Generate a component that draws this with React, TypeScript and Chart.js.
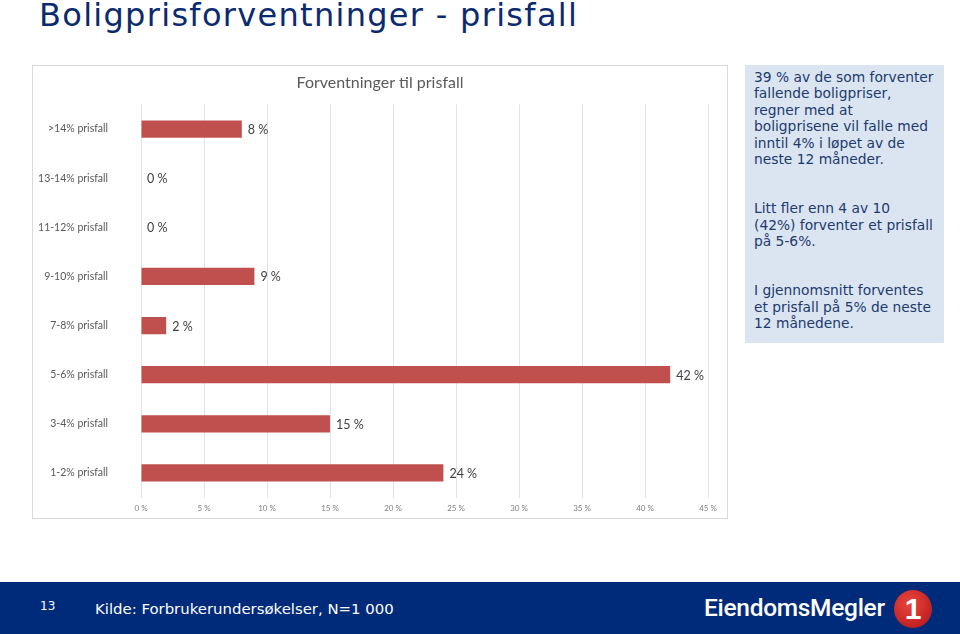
import React, { useEffect, useRef } from "react";
import { Chart, registerables } from "chart.js";

Chart.register(...registerables);

const categories = [
  ">14% prisfall",
  "13-14% prisfall",
  "11-12% prisfall",
  "9-10% prisfall",
  "7-8% prisfall",
  "5-6% prisfall",
  "3-4% prisfall",
  "1-2% prisfall",
];
const values = [8, 0, 0, 9, 2, 42, 15, 24];
const chartTitle = "Forventninger til prisfall";
const pageTitle = "Boligprisforventninger - prisfall";
const note1 = [
  "39 % av de som forventer",
  "fallende boligpriser,",
  "regner med at",
  "boligprisene vil falle med",
  "inntil 4% i løpet av de",
  "neste 12 måneder.",
];
const note2 = ["Litt fler enn 4 av 10", "(42%) forventer et prisfall", "på 5-6%."];
const note3 = ["I gjennomsnitt forventes", "et prisfall på 5% de neste", "12 månedene."];
const notes = [note1, note2, note3];
const source = "Kilde: Forbrukerundersøkelser, N=1 000";
const pageNo = "13";

const FONT = "Lato, 'Open Sans', sans-serif";

const dataLabelPlugin = {
  id: "dataLabels",
  afterDatasetsDraw(chart: any) {
    const ctx = chart.ctx;
    const meta = chart.getDatasetMeta(0);
    ctx.save();
    ctx.font = `12.5px ${FONT}`;
    ctx.fillStyle = "#404040";
    ctx.textAlign = "left";
    ctx.textBaseline = "middle";
    meta.data.forEach((bar: any, i: number) => {
      const v = chart.data.datasets[0].data[i];
      ctx.fillText(`${v} %`, bar.x + 6, bar.y + 1);
    });
    ctx.restore();
  },
};

function BarChart() {
  const ref = useRef<HTMLCanvasElement>(null);
  useEffect(() => {
    if (!ref.current) return;
    const chart = new Chart(ref.current, {
      type: "bar",
      data: {
        labels: categories,
        datasets: [
          {
            data: values,
            backgroundColor: "#c0504d",
            barPercentage: 0.35,
            categoryPercentage: 1,
          },
        ],
      },
      options: {
        indexAxis: "y",
        responsive: false,
        animation: false,
        layout: { padding: 0 },
        plugins: {
          legend: { display: false },
          tooltip: { enabled: false },
          title: {
            display: true,
            text: chartTitle,
            color: "#595959",
            font: { family: FONT, size: 16, weight: "normal" },
            padding: { top: 7.4, bottom: 11.9 },
          },
        },
        scales: {
          x: {
            min: 0,
            max: 45,
            ticks: {
              stepSize: 5,
              callback: (v: any) => `${v} %`,
              color: "#7f7f7f",
              font: { family: FONT, size: 8 },
              padding: 6,
            },
            grid: { color: "#e3e3e3", drawTicks: false },
            border: { display: false },
            afterFit: (s: any) => {
              s.height = 20.5;
              s.paddingLeft = 0;
              s.paddingRight = 19;
            },
          },
          y: {
            ticks: {
              color: "#595959",
              font: { family: FONT, size: 10.5 },
              padding: 33,
            },
            grid: { display: false, drawTicks: false },
            border: { display: false },
            afterFit: (s: any) => {
              s.width = 108;
              s.paddingTop = 0;
              s.paddingBottom = 0;
            },
          },
        },
      },
      plugins: [dataLabelPlugin],
    });
    return () => chart.destroy();
  }, []);
  return <canvas ref={ref} width={694} height={452} style={{ display: "block" }} />;
}

export default function App() {
  return (
    <div
      style={{
        position: "fixed",
        left: 0,
        top: 0,
        width: 960,
        height: 634,
        background: "#ffffff",
        overflow: "hidden",
        fontFamily: "'DejaVu Sans', Verdana, sans-serif",
      }}
    >
      <div
        style={{
          position: "absolute",
          left: 39,
          top: -5,
          fontSize: 32,
          lineHeight: "40px",
          color: "#0b2a6f",
          whiteSpace: "nowrap",
          letterSpacing: 1.3,
        }}
      >
        {pageTitle}
      </div>
      <div
        style={{
          position: "absolute",
          left: 32,
          top: 65,
          width: 696,
          height: 454,
          border: "1px solid #d9d9d9",
          boxSizing: "border-box",
        }}
      >
        <BarChart />
      </div>
      <div
        style={{
          position: "absolute",
          left: 745,
          top: 65,
          width: 199,
          height: 278,
          background: "#dbe5f1",
          boxSizing: "border-box",
          padding: "4px 0 0 9px",
          color: "#1c3a6e",
          fontSize: 13.8,
          lineHeight: "16.4px",
          whiteSpace: "nowrap",
        }}
      >
        {notes.map((lines, i) => (
          <div key={i} style={{ marginBottom: 32.8 }}>
            {lines.map((l, j) => (
              <div key={j}>{l}</div>
            ))}
          </div>
        ))}
      </div>
      <div
        style={{
          position: "absolute",
          left: 0,
          top: 582,
          width: 960,
          height: 52,
          background: "#002a7a",
          color: "#ffffff",
        }}
      >
        <div style={{ position: "absolute", left: 40, top: 17, fontSize: 12 }}>{pageNo}</div>
        <div style={{ position: "absolute", left: 95, top: 18, fontSize: 14.9 }}>{source}</div>
        <div
          style={{
            position: "absolute",
            left: 704,
            top: 11,
            fontSize: 24.5,
            fontFamily: "Roboto, 'Liberation Sans', sans-serif",
            fontWeight: 500,
            letterSpacing: -0.3,
            whiteSpace: "nowrap",
          }}
        >
          EiendomsMegler
        </div>
        <div
          style={{
            position: "absolute",
            left: 894,
            top: 8,
            width: 38,
            height: 38,
            borderRadius: "50%",
            background: "radial-gradient(circle at 40% 35%, #e8473c, #b3121c)",
            color: "#ffffff",
            fontFamily: "'Liberation Sans', Arial, sans-serif",
            fontWeight: 700,
            fontSize: 30,
            lineHeight: "38px",
            textAlign: "center",
          }}
        >
          1
        </div>
      </div>
    </div>
  );
}
